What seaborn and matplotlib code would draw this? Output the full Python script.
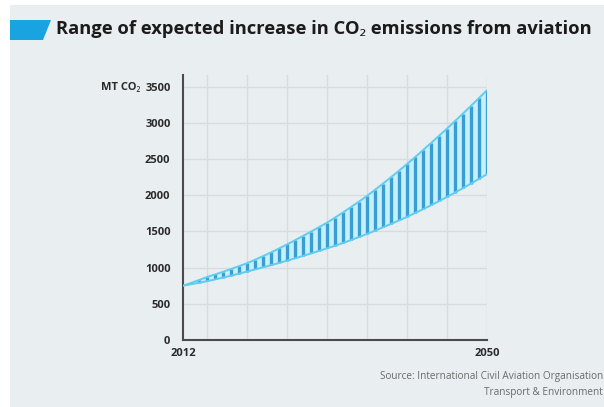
import matplotlib
matplotlib.use("Agg")
import matplotlib.pyplot as plt
import seaborn as sns
import pandas as pd
from matplotlib.patches import Polygon, Rectangle

years = list(range(2012, 2051))
upper = [750, 788, 828, 870, 905, 942, 980, 1020, 1060, 1108,
         1158, 1210, 1264, 1320, 1378, 1437, 1497, 1558, 1620, 1690,
         1762, 1836, 1912, 1990, 2074, 2160, 2248, 2338, 2430, 2525,
         2622, 2720, 2820, 2920, 3024, 3128, 3234, 3342, 3450]
lower = [750, 770, 790, 812, 836, 862, 888, 916, 945, 974,
         1003, 1033, 1064, 1095, 1128, 1161, 1195, 1230, 1265, 1302,
         1340, 1380, 1422, 1465, 1510, 1556, 1603, 1651, 1700, 1753,
         1806, 1861, 1917, 1975, 2036, 2098, 2161, 2225, 2290]
y_ticks = [0, 500, 1000, 1500, 2000, 2500, 3000, 3500]
x_grid = [2015, 2020, 2025, 2030, 2035, 2040, 2045, 2050]
x_labels = {2012: "2012", 2050: "2050"}
title = "Range of expected increase in CO\u2082 emissions from aviation"
ylabel = "MT CO\u2082"
source_lines = ["Source: International Civil Aviation Organisation", "Transport & Environment"]

df = pd.DataFrame({"year": years, "upper": upper, "lower": lower})

sns.set_theme(style="white")
FAM = ["Open Sans", "Noto Sans", "DejaVu Sans"]
plt.rcParams["font.family"] = FAM

W, H = 604, 407
BG = "#e9eef1"
fig = plt.figure(figsize=(W / 100, H / 100), dpi=100, facecolor="white")

def fx(px):
    return px / W

def fy(py):
    return 1 - py / H

# background panel
fig.patches.append(Rectangle((fx(10), 0), 1 - fx(10), fy(5), transform=fig.transFigure,
                             facecolor=BG, edgecolor="none", zorder=-10))
# blue title marker
fig.patches.append(Polygon([(fx(10), fy(20)), (fx(51), fy(20)), (fx(43), fy(40)), (fx(10), fy(40))],
                           closed=True, transform=fig.transFigure, facecolor="#19a4e1",
                           edgecolor="none", zorder=1))
fig.text(fx(56), fy(29), title, fontsize=13.2, fontweight="bold", color="#1b1b1b",
         va="center", ha="left", family=FAM)

ax = fig.add_axes([fx(183), fy(340), fx(487) - fx(183), fy(75) - fy(340)])
ax.set_facecolor(BG)
ax.set_xlim(2012, 2050)
ax.set_ylim(0, 3660)

for g in x_grid:
    ax.axvline(g, color="#d6dcdf", lw=1, zorder=0)
for t in y_ticks[1:]:
    ax.axhline(t, color="#d6dcdf", lw=1, zorder=0)

ax.fill_between(df["year"], df["lower"], df["upper"], color="#c6f1fc", lw=0, zorder=1)
ax.vlines(df["year"][1:], df["lower"][1:], df["upper"][1:], color="#3a9ed5", lw=2.4, zorder=2)
sns.lineplot(data=df, x="year", y="upper", ax=ax, color="#62ccf0", lw=1.4, zorder=3)
sns.lineplot(data=df, x="year", y="lower", ax=ax, color="#62ccf0", lw=1.4, zorder=3)

ax.set_yticks(y_ticks)
ax.set_yticklabels([str(t) for t in y_ticks])
ax.set_xticks(list(x_labels.keys()))
ax.set_xticklabels(list(x_labels.values()))
ax.tick_params(axis="both", length=0, labelsize=8, colors="#2a2a2a")
ax.tick_params(axis="y", pad=9)
ax.tick_params(axis="x", pad=6)
for lab in ax.get_xticklabels() + ax.get_yticklabels():
    lab.set_fontweight("bold")
ax.set_xlabel("")
ax.set_ylabel("")
for s in ["top", "right"]:
    ax.spines[s].set_visible(False)
for s in ["left", "bottom"]:
    ax.spines[s].set_color("#4a4a4a")
    ax.spines[s].set_linewidth(1.5)

fig.text(fx(140), fy(87), ylabel, fontsize=8, fontweight="bold", color="#2a2a2a",
         ha="right", va="center", family=FAM)

fig.text(fx(603), fy(377), source_lines[0], fontsize=7.2, color="#6a6a6a",
         ha="right", va="center", family=FAM)
fig.text(fx(603), fy(392), source_lines[1], fontsize=7.2, color="#6a6a6a",
         ha="right", va="center", family=FAM)

fig.savefig("out.png", dpi=100, facecolor="white")
